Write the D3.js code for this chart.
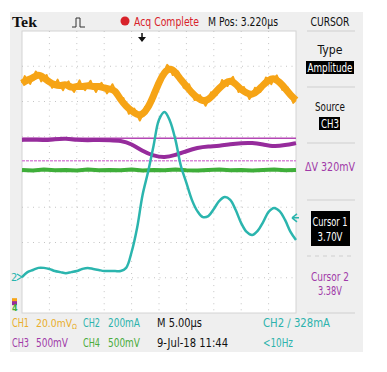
<!DOCTYPE html>
<html>
<head>
  <meta charset="utf-8">
  <style>
    body {
      margin: 0;
      background: #fff;
    }

    text {
      font-family: "DejaVu Sans Condensed", "DejaVu Sans", sans-serif;
      font-size: 12.5px;
    }

    .readout {
      font-size: 11.5px;
    }
  </style>
</head>

<body>
  <svg id="scope" width="387" height="372"></svg>

  <script src="https://cdn.jsdelivr.net/npm/d3@7"></script>
  <script>
    // time base: 5.00us/div, 10 divisions
    const timeSpan = [0, 50]
    const divSpan = [-4, 4]

    // CH1 (orange), sampled every 0.5us, in divisions
    const ch1Step = 0.5
    const ch1 = [2.52, 2.72, 2.61, 2.50, 2.67, 2.85, 2.78, 2.57, 2.67, 2.75, 2.55, 2.39, 2.47, 2.62, 2.44, 2.32,
      2.50, 2.57, 2.38, 2.27, 2.44, 2.60, 2.41, 2.32, 2.47, 2.59, 2.41, 2.27, 2.44, 2.53, 2.38, 2.23,
      2.35, 2.49, 2.33, 2.06, 2.04, 2.10, 1.87, 1.65, 1.73, 1.80, 1.62, 1.46, 1.62, 1.85, 1.82, 1.87,
      2.16, 2.51, 2.55, 2.57, 2.84, 3.04, 2.95, 2.75, 2.84, 2.85, 2.61, 2.39, 2.44, 2.49, 2.24, 2.04,
      2.10, 2.18, 2.01, 1.88, 2.04, 2.26, 2.21, 2.18, 2.38, 2.61, 2.52, 2.44, 2.61, 2.70, 2.50, 2.27,
      2.33, 2.41, 2.24, 2.07, 2.18, 2.39, 2.30, 2.27, 2.47, 2.68, 2.61, 2.49, 2.67, 2.74, 2.55, 2.33,
      2.38, 2.40, 2.18, 1.96, 2.04]

    // CH2 (cyan), every 1us
    const ch2Step = 1
    const ch2 = [-2.98, -2.84, -2.78, -2.72, -2.72, -2.75, -2.81, -2.84, -2.87, -2.84, -2.81, -2.75, -2.72,
      -2.75, -2.78, -2.81, -2.81, -2.81, -2.81, -2.72, -2.27, -1.59, -0.65, 0.00, 0.74, 1.48, 1.70,
      1.45, 0.91, 0.17, -0.31, -0.79, -1.11, -1.28, -1.25, -1.05, -0.82, -0.71, -0.79, -1.08, -1.45,
      -1.70, -1.79, -1.67, -1.42, -1.13, -1.02, -1.11, -1.36, -1.70, -1.93]

    // CH3 (purple), every 2us
    const ch3Step = 2
    const ch3 = [0.91, 0.92, 0.90, 0.93, 0.95, 0.91, 0.90, 0.91, 0.90, 0.89, 0.80, 0.59, 0.46, 0.40,
      0.48, 0.59, 0.69, 0.73, 0.74, 0.79, 0.82, 0.83, 0.78, 0.72, 0.76, 0.82]

    // CH4 (green), every 2us
    const ch4Step = 2
    const ch4 = [0.06, 0.04, 0.07, 0.05, 0.06, 0.04, 0.07, 0.05, 0.06, 0.05, 0.07, 0.04, 0.06, 0.05,
      0.07, 0.05, 0.04, 0.06, 0.07, 0.05, 0.06, 0.04, 0.06, 0.07, 0.05, 0.06]

    // cursors on CH3 (500mV/div)
    const cursorVolts = [3.70, 3.38]
    const ch3VoltsPerDiv = 0.5
    const ch3OffsetDiv = -6.44

    const triggerTime = 21.9
    const triggerLevelDiv = -1.30
    const ch2GroundDiv = -2.98
    const otherGroundDiv = -3.75

    const topLabels = ["Acq Complete", "M Pos: 3.220\u00b5s"]
    const bottomRow1 = [
      ["CH1", "#e9ad2a"], ["20.0mV", "#e9ad2a"], ["CH2", "#2db3ad"], ["200mA", "#2db3ad"],
      ["M 5.00\u00b5s", "#111"], ["CH2 \u2215 328mA", "#2db3ad"]
    ]
    const bottomRow2 = [
      ["CH3", "#a03aa8"], ["500mV", "#a03aa8"], ["CH4", "#4aac3c"], ["500mV", "#4aac3c"],
      ["9-Jul-18 11:44", "#111"], ["<10Hz", "#2db3ad"]
    ]
    const bottomX = [12, 36, 83, 108, 157, 263]
    const bottomW1 = [17, 41, 17, 32, 45, 67]
    const bottomW2 = [17, 32, 17, 32, 71, 30]

    const colors = {
      ch1: "#f6a416",
      ch2: "#2bb5ae",
      ch3: "#962c9c",
      ch4: "#3fae3a",
      cursor1: "#b447b4",
      cursor2: "#d98ad9"
    }

    const svg = d3.select("#scope")

    // squeeze text to the width it has on the scope screen
    function fit(sel, w) {
      sel.attr("textLength", w).attr("lengthAdjust", "spacingAndGlyphs")
      return sel
    }

    // scope frame
    svg.append("rect")
      .attr("x", 10).attr("y", 12)
      .attr("width", 353).attr("height", 340)
      .attr("fill", "#efefef")

    let x = d3.scaleLinear().domain(timeSpan).range([22, 296])
    let y = d3.scaleLinear().domain(divSpan).range([313, 31])

    svg.append("rect")
      .attr("x", x(0)).attr("y", y(4))
      .attr("width", x(50) - x(0)).attr("height", y(-4) - y(4))
      .attr("fill", "#fff")
      .attr("stroke", "#d4d4d4")

    // graticule
    let grid = svg.append("g")
    grid.selectAll(".vx")
      .data(d3.range(5, 50, 5))
      .join("line")
      .attr("x1", d => x(d)).attr("x2", d => x(d))
      .attr("y1", y(4)).attr("y2", y(-4))
      .attr("stroke", "#c4c4c4")
      .attr("stroke-dasharray", "1,5.05")
    grid.selectAll(".hy")
      .data(d3.range(-3, 4, 1))
      .join("line")
      .attr("x1", x(0)).attr("x2", x(50))
      .attr("y1", d => y(d)).attr("y2", d => y(d))
      .attr("stroke", "#c4c4c4")
      .attr("stroke-dasharray", "1,4.5")

    function trace(values, step, color, width, curve) {
      svg.append("path")
        .datum(values)
        .attr("fill", "none")
        .attr("stroke", color)
        .attr("stroke-width", width)
        .attr("stroke-linejoin", "round")
        .attr("d", d3.line()
          .x((d, i) => x(i * step))
          .y(d => y(d))
          .curve(curve))
    }

    // cursor lines
    let cursorDiv = cursorVolts.map(v => v / ch3VoltsPerDiv + ch3OffsetDiv)
    svg.append("line")
      .attr("x1", x(0)).attr("x2", x(50))
      .attr("y1", y(cursorDiv[0])).attr("y2", y(cursorDiv[0]))
      .attr("stroke", colors.cursor1).attr("stroke-width", 1.5)
    svg.append("line")
      .attr("x1", x(0)).attr("x2", x(50))
      .attr("y1", y(cursorDiv[1])).attr("y2", y(cursorDiv[1]))
      .attr("stroke", colors.cursor2).attr("stroke-width", 1.5)
      .attr("stroke-dasharray", "3,1")

    trace(ch4, ch4Step, colors.ch4, 4, d3.curveLinear)
    trace(ch3, ch3Step, colors.ch3, 4, d3.curveBasis)
    // noisy CH1: body of the band from the whole-us samples, spikes from all samples
    trace(ch1.filter((d, i) => i % 2 == 0), ch1Step * 2, colors.ch1, 7, d3.curveBasis)
    trace(ch1, ch1Step, colors.ch1, 2, d3.curveLinear)
    trace(ch2, ch2Step, colors.ch2, 2.5, d3.curveCatmullRom)

    // trigger position arrow
    let tx = x(triggerTime)
    svg.append("path")
      .attr("d", `M${tx},${y(4) + 2}V${y(4) + 7}`)
      .attr("stroke", "#111").attr("stroke-width", 1.5)
    svg.append("path")
      .attr("d", `M${tx - 4},${y(4) + 6}L${tx + 4},${y(4) + 6}L${tx},${y(4) + 11}Z`)
      .attr("fill", "#111")

    // trigger level arrow on right
    let ty = y(triggerLevelDiv)
    svg.append("path")
      .attr("d", `M${x(50) - 4},${ty}L${x(50) + 1},${ty - 4}M${x(50) - 4},${ty}L${x(50) + 1},${ty + 4}M${x(50) - 4},${ty}H${x(50) + 3}`)
      .attr("stroke", colors.ch2).attr("stroke-width", 1.5).attr("fill", "none")

    // ground markers on left
    let gy = y(ch2GroundDiv)
    svg.append("text")
      .attr("x", 11).attr("y", gy + 4)
      .attr("fill", colors.ch2)
      .style("font-size", "11px")
      .text("2")
    svg.append("path")
      .attr("d", `M${x(0) - 5},${gy - 3}L${x(0)},${gy}L${x(0) - 5},${gy + 3}`)
      .attr("stroke", colors.ch2).attr("fill", "none").attr("stroke-width", 1.2)

    let oy = y(otherGroundDiv)
    svg.append("rect").attr("x", 12).attr("y", oy - 6).attr("width", 5).attr("height", 4).attr("fill", colors.ch1)
    svg.append("rect").attr("x", 12).attr("y", oy - 3).attr("width", 5).attr("height", 4).attr("fill", colors.ch3)
    svg.append("text")
      .attr("x", 12).attr("y", oy + 7)
      .attr("fill", colors.ch4)
      .style("font-size", "9px")
      .style("font-weight", "bold")
      .text("4")

    // top bar
    fit(svg.append("text")
      .attr("x", 12).attr("y", 27)
      .attr("fill", "#111")
      .style("font-size", "14px")
      .style("font-weight", "bold")
      .style("font-family", "'Liberation Serif', serif")
      .text("Tek"), 25)
    svg.append("path")
      .attr("d", "M72,27H76V18H80V27H85")
      .attr("stroke", "#333").attr("fill", "none").attr("stroke-width", 1)
    svg.append("circle")
      .attr("cx", 125).attr("cy", 21).attr("r", 4.5)
      .attr("fill", "#d8222a")
    fit(svg.append("text")
      .attr("x", 134).attr("y", 26)
      .attr("fill", "#d8222a")
      .text(topLabels[0]), 65)
    fit(svg.append("text")
      .attr("x", 208).attr("y", 26)
      .attr("fill", "#111")
      .text(topLabels[1]), 70)

    // side panel
    let panelX = 330
    let sep = svg.append("g")
    sep.selectAll("line")
      .data([31, 87, 143, 200, 313])
      .join("line")
      .attr("x1", 307).attr("x2", 355)
      .attr("y1", d => d).attr("y2", d => d)
      .attr("stroke", "#cfcfcf")
    sep.append("line")
      .attr("x1", 307).attr("x2", 355)
      .attr("y1", 256).attr("y2", 256)
      .attr("stroke", "#cfcfcf")
      .attr("stroke-dasharray", "4,4")

    function panelText(t, yy, color, w) {
      fit(svg.append("text")
        .attr("x", panelX - w / 2).attr("y", yy)
        .attr("fill", color)
        .text(t), w)
    }

    panelText("CURSOR", 26, "#111", 39)
    panelText("Type", 54, "#111", 25)
    svg.append("rect").attr("x", 306).attr("y", 61).attr("width", 48).attr("height", 13).attr("fill", "#000")
    panelText("Amplitude", 71.5, "#fff", 45)
    panelText("Source", 111, "#111", 30)
    svg.append("rect").attr("x", 319).attr("y", 117).attr("width", 21).attr("height", 13).attr("fill", "#000")
    panelText("CH3", 127.5, "#fff", 18)
    panelText("\u0394V 320mV", 171, "#a03aa8", 50)
    svg.append("rect").attr("x", 311).attr("y", 211).attr("width", 39).attr("height", 35).attr("fill", "#000")
    panelText("Cursor 1", 226, "#fff", 35)
    panelText("3.70V", 241, "#fff", 25)
    panelText("Cursor 2", 281, "#a03aa8", 38)
    panelText("3.38V", 295, "#a03aa8", 24)

    // bottom readout
    let row1 = svg.append("g").selectAll("text")
      .data(bottomRow1)
      .join("text")
      .attr("class", "readout")
      .attr("x", (d, i) => bottomX[i]).attr("y", 327)
      .attr("fill", d => d[1])
      .attr("textLength", (d, i) => bottomW1[i])
      .attr("lengthAdjust", "spacingAndGlyphs")
      .text(d => d[0])
    // CH1 50 ohm input mark sits right after its scale
    row1.filter((d, i) => i == 1)
      .style("font-size", "10px")
      .append("tspan")
      .attr("dy", 2)
      .style("font-size", "7px")
      .text("\u03a9")
    svg.append("g").selectAll("text")
      .data(bottomRow2)
      .join("text")
      .attr("class", "readout")
      .attr("x", (d, i) => bottomX[i]).attr("y", 347)
      .attr("fill", d => d[1])
      .attr("textLength", (d, i) => bottomW2[i])
      .attr("lengthAdjust", "spacingAndGlyphs")
      .text(d => d[0])
  </script>
</body>

</html>
